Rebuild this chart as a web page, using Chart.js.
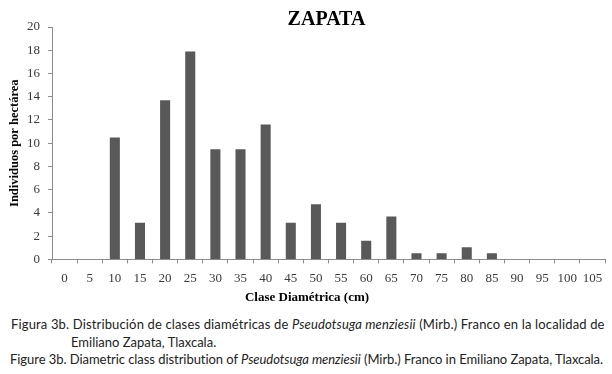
<!DOCTYPE html>
<html>
<head>
    <meta charset="UTF-8">
    <title>Zapata</title>
    <script src="https://cdn.jsdelivr.net/npm/chart.js@4.4.1/dist/chart.umd.min.js"></script>
    <style>
        html, body { margin: 0; padding: 0; background: #fff; }
        .wrap { position: relative; width: 612px; height: 374px; overflow: hidden; }
        .chart-box { position: absolute; left: 0; top: 0; width: 612px; height: 310px; }
        .caption { position: absolute; left: 11px; font-family: Lato, sans-serif; font-size: 13px; color: #222; white-space: nowrap; }
        .caption i { font-style: italic; }
    </style>
</head>
<body>
<div class="wrap">
    <div class="chart-box"><canvas id="myChart"></canvas></div>
    <div class="caption" style="top:316px; letter-spacing:0.15px;">Figura 3b. Distribución de clases diamétricas de <i>Pseudotsuga menziesii</i> (Mirb.) Franco en la localidad de</div>
    <div class="caption" style="top:334px; left:71px;">Emiliano Zapata, Tlaxcala.</div>
    <div class="caption" style="top:351px; left:10px; letter-spacing:-0.05px;">Figure 3b. Diametric class distribution of <i>Pseudotsuga menziesii</i> (Mirb.) Franco in Emiliano Zapata, Tlaxcala.</div>
</div>
<script>
    var clases = ['0','5','10','15','20','25','30','35','40','45','50','55','60','65','70','75','80','85','90','95','100','105'];
    var individuos = [0, 0, 10.5, 3.15, 13.7, 17.9, 9.47, 9.47, 11.6, 3.15, 4.75, 3.15, 1.6, 3.7, 0.52, 0.52, 1.05, 0.52, 0, 0, 0, 0];
    var titulo = 'ZAPATA';
    var tituloX = 'Clase Diamétrica (cm)';

    // title over the plot area, x title centred on the page
    var textPlugin = {
        id: 'zapataText',
        afterDraw: function(chart) {
            var ctx = chart.ctx;
            var area = chart.chartArea;
            ctx.save();
            ctx.fillStyle = '#000';
            ctx.textAlign = 'center';
            ctx.textBaseline = 'middle';
            ctx.font = 'bold 20px "Liberation Serif", serif';
            ctx.fillText(titulo, (area.left + area.right) / 2 - 2, 20);
            ctx.font = 'bold 13px "Liberation Serif", serif';
            ctx.fillText(tituloX, chart.width / 2 + 1, 298);
            ctx.restore();
        }
    };

    var axisFont = { family: '"Liberation Serif", serif', size: 13 };

    var myBasicChart = new Chart('myChart', {
        type: 'bar',
        data: {
            labels: clases,
            datasets: [{
                data: individuos,
                backgroundColor: '#595959',
                barPercentage: 0.4,
                categoryPercentage: 1
            }]
        },
        options: {
            responsive: true,
            maintainAspectRatio: false,
            animation: false,
            layout: { padding: { top: 27, right: 7, left: 0, bottom: 17 } },
            plugins: {
                legend: { display: false },
                tooltip: { enabled: false }
            },
            scales: {
                x: {
                    grid: { drawOnChartArea: false, drawTicks: true, tickLength: 4, color: '#8c8c8c' },
                    border: { color: '#8c8c8c' },
                    ticks: { color: '#3a3a3a', font: axisFont, maxRotation: 0, autoSkip: false, padding: 7 }
                },
                y: {
                    min: 0,
                    max: 20,
                    grid: { drawOnChartArea: false, drawTicks: true, tickLength: 4, color: '#8c8c8c' },
                    border: { color: '#8c8c8c' },
                    ticks: { stepSize: 2, color: '#3a3a3a', font: axisFont, padding: 8 },
                    title: {
                        display: true,
                        text: 'Individuos por hectárea',
                        color: '#000',
                        font: { family: '"Liberation Serif", serif', size: 12.5, weight: 'bold' },
                        padding: { top: 7, bottom: 0 }
                    },
                    afterFit: function(scale) { scale.width = 52; }
                }
            }
        },
        plugins: [textPlugin]
    });
</script>
</body>
</html>
